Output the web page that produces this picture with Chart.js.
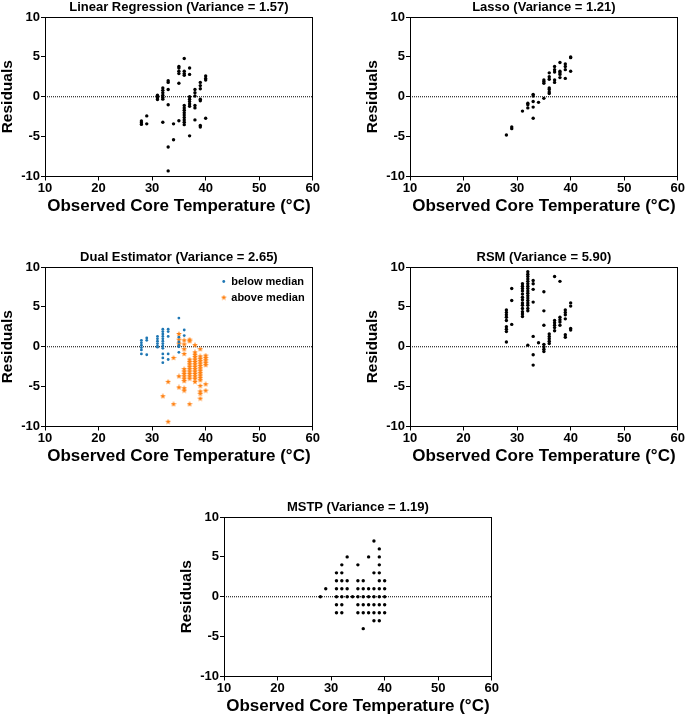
<!DOCTYPE html>
<html lang="en">
<head>
<meta charset="UTF-8">
<title>Residuals vs observed core temperature</title>
<script src="https://cdn.jsdelivr.net/npm/chart.js"></script>
<style>
  body { margin: 0; width: 685px; height: 716px; overflow: hidden; background: #fff; position: relative; }
  canvas { position: absolute; }
</style>
</head>
<body>
<canvas id="lr" width="320" height="220" style="left:0px;top:0px;width:320px;height:220px"></canvas>
<canvas id="lasso" width="320" height="220" style="left:365px;top:0px;width:320px;height:220px"></canvas>
<canvas id="dual" width="320" height="220" style="left:0px;top:250px;width:320px;height:220px"></canvas>
<canvas id="rsm" width="320" height="220" style="left:365px;top:250px;width:320px;height:220px"></canvas>
<canvas id="mstp" width="320" height="220" style="left:179px;top:500px;width:320px;height:220px"></canvas>

<script>
// ---- data (x = observed temp, y = residuals per temp) ----
const xTicks = [10, 20, 30, 40, 50, 60];
const yTicks = [-10, -5, 0, 5, 10];
const zeroLineX = [10, 60];

const lrTemps = [28, 29, 31, 32, 33, 34, 35, 36, 37, 38, 39, 40];
const lrResid = [
  [-3.05, -3.26, -3.47],
  [-2.4, -3.4],
  [0.2, 0, -0.15, -0.35],
  [1.1, 0.8, 0.5, 0.2, -0.1, -0.3, -3.2],
  [2.0, 1.8, 0.9, -1.0, -6.3, -9.3],
  [-3.4, -5.4],
  [3.8, 3.6, 3.2, 2.9, 1.7, -3.0],
  [4.8, 3.2, 2.9, 2.7, -1.1, -1.4, -1.7, -2.0, -2.3, -2.6, -2.9, -3.2, -3.5],
  [3.6, 2.8, 0, -0.3, -0.6, -0.9, -1.2, -4.9],
  [0.9, 0.5, 0.1, -1.1, -1.4, -2.9],
  [1.8, 1.4, 1.0, -0.3, -0.5, -3.6, -3.8],
  [2.6, 2.3, 2.1, -2.7]
];

const lassoTemps = [28, 29, 31, 32, 33, 34, 35, 36, 37, 38, 39, 40];
const lassoResid = [
  [-4.8],
  [-3.8, -4.0],
  [-1.8],
  [-0.8, -1.0, -1.4],
  [0.3, 0.1, -0.6, -1.3, -2.7],
  [-0.7],
  [2.1, 1.9, 1.7, -0.2],
  [3.0, 2.5, 2.2, 1.1, 0.9, 0.6, 0.4],
  [3.8, 3.4, 3.1, 2.1, 1.8],
  [4.3, 3.2, 3.0, 2.8, 2.4],
  [4.1, 3.8, 3.4, 2.3],
  [5.0, 4.9, 3.2]
];

const dualLowTemps = [28, 29, 31, 32, 33, 35, 36];
const dualLowResid = [
  [0.8, 0.5, 0.2, -0.1, -0.4, -0.9],
  [1.1, 0.8, -1.0],
  [1.3, 1.0, 0.7, 0.4, 0.1, -0.05],
  [2.2, 1.9, 1.6, 1.3, 1.0, 0.7, 0.4, 0.1, -0.2, -0.9, -1.4, -2.0],
  [2.2, 1.9, 1.3, -0.9, -1.6],
  [3.6, 1.2, 0.6, 0.2, 0, -0.7],
  [2.1, 1.4]
];
const dualHighTemps = [32, 33, 34, 35, 36, 37, 38, 39, 40];
const dualHighResid = [
  [-6.2],
  [-4.4, -9.4],
  [-1.4, -7.2],
  [1.6, 0.9, 0.4, -3.7, -5.1],
  [0.8, 0.3, -0.3, -0.9, -2.8, -3.1, -3.4, -3.7, -4.0, -4.3, -5.2, -5.5],
  [0.9, 0.7, -1.6, -1.9, -2.2, -2.5, -2.8, -3.1, -3.4, -3.7, -4.0, -7.2],
  [0.2, -0.7, -1.0, -1.3, -1.6, -1.9, -2.2, -2.5, -2.8, -3.1, -3.4, -3.7, -4.0, -4.4],
  [-0.3, -1.2, -1.5, -1.8, -2.1, -2.4, -2.7, -3.0, -3.3, -3.6, -3.9, -4.2, -4.9, -5.6, -5.9, -6.5],
  [-1.1, -1.4, -1.7, -2.0, -2.3, -4.7, -5.5]
];

const rsmTemps = [28, 29, 31, 32, 33, 34, 35, 36, 37, 38, 39, 40];
const rsmResid = [
  [4.6, 4.3, 4.0, 3.7, 3.3, 2.5, 2.2, 1.9, 0.6],
  [7.3, 5.8, 2.8],
  [7.9, 7.6, 7.3, 7.0, 6.6, 6.2, 5.9, 5.5, 5.2, 4.8, 4.4, 4.1, 3.8],
  [9.4, 9.1, 8.8, 8.5, 8.2, 7.9, 7.6, 7.3, 7.0, 6.7, 6.4, 6.1, 5.8, 5.5, 5.2, 4.8, 4.5, 0.2],
  [8.3, 7.9, 7.2, 5.6, 1.3, -1.0, -2.3],
  [0.5],
  [6.9, 4.5, 2.7, 0.3, 0, -0.3, -0.6],
  [1.6, 1.3, 1.0, 0.7, 0.4],
  [8.8, 3.3, 3.0, 2.7, 2.4, 2.0],
  [8.2, 3.7, 3.4, 3.1, 2.7],
  [4.6, 4.3, 4.0, 3.5, 1.5, 1.2],
  [5.5, 5.1, 2.3, 2.1]
];

const mstpTemps = [28, 29, 31, 32, 33, 34, 35, 36, 37, 38, 39, 40];
const mstpResid = [
  [0],
  [1],
  [3, 2, 1, 0, -1, -2],
  [4, 3, 2, 1, 0, -1, -2],
  [5, 2, 1, 0],
  [0],
  [4, 2, 1, 0, -1, -2],
  [2, 1, 0, -1, -2, -4],
  [5, 1, 0, -1, -2],
  [7, 3, 1, 0, -1, -2, -3],
  [6, 5, 4, 3, 2, 1, 0, -1, -2, -3],
  [2, 1, 0, -1, -2]
];

// ---- helpers ----
Chart.defaults.font.family = '"Liberation Sans", Arial, sans-serif';
Chart.defaults.font.weight = 'bold';
Chart.defaults.color = '#000';

function toPoints(temps, resid) {
  const pts = [];
  temps.forEach((t, i) => resid[i].forEach(r => pts.push({ x: t, y: r })));
  return pts;
}

// filled star marker like matplotlib '*'
function starImage(size, color) {
  const c = document.createElement('canvas');
  c.width = size; c.height = size;
  const g = c.getContext('2d');
  const r = size / 2, ri = r * 0.42;
  g.beginPath();
  for (let i = 0; i < 10; i++) {
    const a = -Math.PI / 2 + i * Math.PI / 5;
    const rr = i % 2 ? ri : r;
    g.lineTo(r + rr * Math.cos(a), r + rr * Math.sin(a));
  }
  g.closePath();
  g.fillStyle = color;
  g.fill();
  return c;
}

function zeroLine() {
  return {
    type: 'line', label: 'zero', order: 2,
    data: zeroLineX.map(x => ({ x: x, y: 0 })),
    borderColor: '#000', borderWidth: 1, borderDash: [1, 1],
    pointRadius: 0, fill: false
  };
}

function dots(points, color, radius) {
  return {
    type: 'scatter', order: 1, data: points,
    backgroundColor: color, borderWidth: 0,
    pointRadius: radius, pointHoverRadius: radius
  };
}

// put the legend in the upper right of the plot, like matplotlib's best location
const legendSpot = {
  id: 'legendSpot',
  afterLayout(chart) {
    const lg = chart.legend;
    if (!lg || !lg.options.display) return;
    lg.left = chart.chartArea.right - 96;
    lg.top = chart.chartArea.top + 4;
    lg.right = lg.left + lg.width;
    lg.bottom = lg.top + lg.height;
  }
};

function makePanel(id, title, datasets, showLegend) {
  const tickFont = { size: 13, weight: 'bold' };
  const frame = { drawOnChartArea: false, drawTicks: true, tickLength: 4, color: '#000', lineWidth: 1 };
  new Chart(document.getElementById(id), {
    type: 'scatter',
    data: { datasets: datasets },
    plugins: [legendSpot],
    options: {
      responsive: false,
      animation: false,
      events: [],
      layout: { autoPadding: false, padding: { left: 0, right: 7, top: 0, bottom: 0 } },
      scales: {
        x: {
          type: 'linear', position: 'bottom', min: xTicks[0], max: xTicks[xTicks.length - 1],
          afterBuildTicks: s => { s.ticks = xTicks.map(v => ({ value: v })); },
          ticks: { padding: 0, font: tickFont, color: '#000' },
          grid: frame,
          border: { display: true, color: '#000', width: 1 },
          title: {
            display: true, text: 'Observed Core Temperature (°C)', color: '#000',
            font: { size: 17, weight: 'bold' }, padding: { top: 0, bottom: 3 }
          },
          afterFit: s => { s.height = 43.5; }
        },
        y: {
          type: 'linear', position: 'left', min: yTicks[0], max: yTicks[yTicks.length - 1],
          afterBuildTicks: s => { s.ticks = yTicks.map(v => ({ value: v })); },
          ticks: { padding: 1, font: tickFont, color: '#000' },
          grid: frame,
          border: { display: true, color: '#000', width: 1 },
          title: {
            display: true, text: 'Residuals', color: '#000',
            font: { size: 15.5, weight: 'bold', lineHeight: 1 }, padding: { top: 0, bottom: 0 }
          },
          afterFit: s => { s.width = 45; }
        },
        xTop: {
          type: 'linear', position: 'top', min: xTicks[0], max: xTicks[xTicks.length - 1],
          ticks: { display: false }, grid: { display: false },
          border: { display: true, color: '#000', width: 1 },
          afterFit: s => { s.height = 0; }
        },
        yRight: {
          type: 'linear', position: 'right', min: yTicks[0], max: yTicks[yTicks.length - 1],
          ticks: { display: false }, grid: { display: false },
          border: { display: true, color: '#000', width: 1 },
          afterFit: s => { s.width = 0; }
        }
      },
      plugins: {
        title: {
          display: true, text: title, fullSize: false, color: '#000',
          font: { size: 13, weight: 'bold', lineHeight: 1.077 },
          padding: { top: 0, bottom: 3 }
        },
        legend: {
          display: !!showLegend,
          position: 'chartArea',
          align: 'start',
          labels: {
            usePointStyle: true, boxWidth: 4, boxHeight: 2, padding: 5,
            color: '#000', font: { size: 11, weight: 'bold' },
            filter: item => item.text !== 'zero'
          }
        },
        tooltip: { enabled: false }
      }
    }
  });
}

const star = starImage(6, '#ff7f0e');

makePanel('lr', 'Linear Regression (Variance = 1.57)',
  [dots(toPoints(lrTemps, lrResid), '#000', 1.7), zeroLine()]);

makePanel('lasso', 'Lasso (Variance = 1.21)',
  [dots(toPoints(lassoTemps, lassoResid), '#000', 1.7), zeroLine()]);

makePanel('dual', 'Dual Estimator (Variance = 2.65)', [
  Object.assign(dots(toPoints(dualLowTemps, dualLowResid), '#1f77b4', 1.4),
    { label: 'below median', pointStyle: 'circle' }),
  Object.assign(dots(toPoints(dualHighTemps, dualHighResid), '#ff7f0e', 3),
    { label: 'above median', pointStyle: star }),
  zeroLine()
], true);

makePanel('rsm', 'RSM (Variance = 5.90)',
  [dots(toPoints(rsmTemps, rsmResid), '#000', 1.7), zeroLine()]);

makePanel('mstp', 'MSTP (Variance = 1.19)',
  [dots(toPoints(mstpTemps, mstpResid), '#000', 1.7), zeroLine()]);
</script>
</body>
</html>
